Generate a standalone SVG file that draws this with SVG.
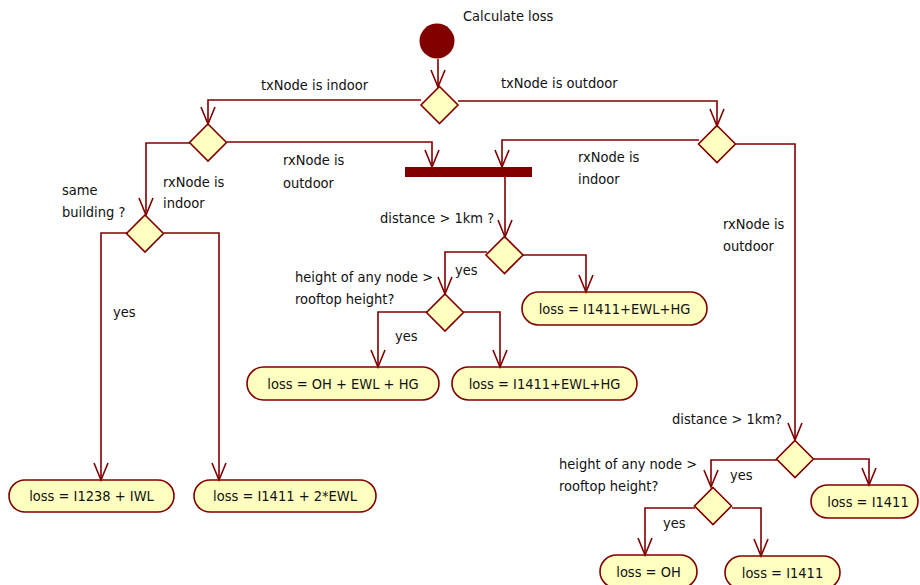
<svg xmlns="http://www.w3.org/2000/svg" width="920" height="585" viewBox="0 0 920 585">
  <style>
    .edge { fill: none; stroke: #800000; stroke-width: 1.6; marker-end: url(#open); }
    .dec { fill: #ffffc0; stroke: #800000; stroke-width: 1.6; }
    .act { fill: #ffffc0; stroke: #800000; stroke-width: 1.6; }
    text { font-family: "DejaVu Sans Condensed", "DejaVu Sans", sans-serif; font-stretch: condensed; font-size: 14.5px; fill: #111; }
    .c { text-anchor: middle; }
  </style>
  <defs>
    <marker id="open" viewBox="-18 -8 20 16" refX="0" refY="0" markerWidth="20" markerHeight="16" markerUnits="userSpaceOnUse" orient="auto">
      <path d="M-17,-7 L0,0 L-17,7" fill="none" stroke="#800000" stroke-width="1.6"/>
    </marker>
  </defs>

  <!-- start -->
  <g id="start">
    <circle cx="437" cy="41" r="17.5" fill="#800000"/>
    <text x="463" y="21">Calculate loss</text>
  </g>

  <!-- join bar -->
  <g id="join">
    <rect x="405" y="167" width="127" height="10" fill="#800000"/>
  </g>

  <!-- decisions -->
  <g id="d-tx"><polygon class="dec" points="439.5,86.5 458,105 439.5,123.5 421,105"/></g>
  <g id="d-rx-indoor"><polygon class="dec" points="208,124 226.5,142.5 208,161 189.5,142.5"/></g>
  <g id="d-rx-outdoor"><polygon class="dec" points="717,125.5 735.5,144 717,162.5 698.5,144"/></g>
  <g id="d-distance-a"><polygon class="dec" points="504.5,236.5 523,255 504.5,273.5 486,255"/></g>
  <g id="d-height-a"><polygon class="dec" points="445,294 463.5,312.5 445,331 426.5,312.5"/></g>
  <g id="d-building"><polygon class="dec" points="145,215 163.5,233.5 145,252 126.5,233.5"/></g>
  <g id="d-distance-b"><polygon class="dec" points="795,440.5 813.5,459 795,477.5 776.5,459"/></g>
  <g id="d-height-b"><polygon class="dec" points="713,487.5 731.5,506 713,524.5 694.5,506"/></g>

  <!-- actions -->
  <g id="a-oh-ewl-hg">
    <rect class="act" x="247" y="367" width="192" height="33" rx="16.5"/>
    <text class="c" x="343" y="388.5">loss = OH + EWL + HG</text>
  </g>
  <g id="a-i1411-ewl-hg-1">
    <rect class="act" x="452" y="367" width="185" height="33" rx="16.5"/>
    <text class="c" x="544.5" y="388.5">loss = I1411+EWL+HG</text>
  </g>
  <g id="a-i1411-ewl-hg-2">
    <rect class="act" x="522" y="292" width="185" height="33" rx="16.5"/>
    <text class="c" x="614.5" y="313.5">loss = I1411+EWL+HG</text>
  </g>
  <g id="a-i1238-iwl">
    <rect class="act" x="9" y="480" width="165" height="32" rx="16"/>
    <text class="c" x="91.5" y="500.5">loss = I1238 + IWL</text>
  </g>
  <g id="a-i1411-2ewl">
    <rect class="act" x="194" y="480" width="182" height="32" rx="16"/>
    <text class="c" x="285" y="500.5">loss = I1411 + 2*EWL</text>
  </g>
  <g id="a-i1411-a">
    <rect class="act" x="811" y="485" width="107" height="33" rx="16.5"/>
    <text class="c" x="868" y="506.5">loss = I1411</text>
  </g>
  <g id="a-oh">
    <rect class="act" x="600" y="555" width="97" height="33" rx="16.5"/>
    <text class="c" x="648.5" y="576.5">loss = OH</text>
  </g>
  <g id="a-i1411-b">
    <rect class="act" x="725" y="556" width="115" height="33" rx="16.5"/>
    <text class="c" x="782.5" y="577.5">loss = I1411</text>
  </g>

  <!-- connectors -->
  <g id="edges">
    <path class="edge" d="M438,59 L438,87"/>
    <path class="edge" d="M421,100 L208,100 L208,124"/>
    <path class="edge" d="M458,101 L717,101 L717,126"/>
    <path class="edge" d="M227,142 L432,142 L432,167"/>
    <path class="edge" d="M190,143 L146,143 L146,215"/>
    <path class="edge" d="M699,140 L502,140 L502,167"/>
    <path class="edge" d="M736,144 L795,144 L795,440"/>
    <path class="edge" d="M505,177 L505,237"/>
    <path class="edge" d="M487,252 L445,252 L445,294"/>
    <path class="edge" d="M523,255 L586,255 L586,292"/>
    <path class="edge" d="M428,312 L378,312 L378,367"/>
    <path class="edge" d="M463,312 L500,312 L500,367"/>
    <path class="edge" d="M128,233 L101,233 L101,480"/>
    <path class="edge" d="M164,233 L219,233 L219,480"/>
    <path class="edge" d="M777,460 L711,460 L711,487"/>
    <path class="edge" d="M814,459 L869,459 L869,485"/>
    <path class="edge" d="M695,508 L645,508 L645,555"/>
    <path class="edge" d="M732,508 L761,508 L761,556"/>
  </g>

  <!-- guard labels -->
  <g id="labels">
    <text x="261" y="90">txNode is indoor</text>
    <text x="501" y="88">txNode is outdoor</text>
    <text x="283" y="165">rxNode is</text>
    <text x="283" y="188">outdoor</text>
    <text x="62" y="195">same</text>
    <text x="62" y="217">building ?</text>
    <text x="163" y="187">rxNode is</text>
    <text x="163" y="208">indoor</text>
    <text x="113" y="317">yes</text>
    <text x="578" y="162">rxNode is</text>
    <text x="578" y="184">indoor</text>
    <text x="380" y="223">distance &gt; 1km ?</text>
    <text x="455" y="275">yes</text>
    <text x="295" y="282">height of any node &gt;</text>
    <text x="295" y="304">rooftop height?</text>
    <text x="395" y="341">yes</text>
    <text x="723" y="229">rxNode is</text>
    <text x="723" y="251">outdoor</text>
    <text x="672" y="424">distance &gt; 1km?</text>
    <text x="559" y="469">height of any node &gt;</text>
    <text x="559" y="491">rooftop height?</text>
    <text x="730" y="480">yes</text>
    <text x="663" y="528">yes</text>
  </g>
</svg>
